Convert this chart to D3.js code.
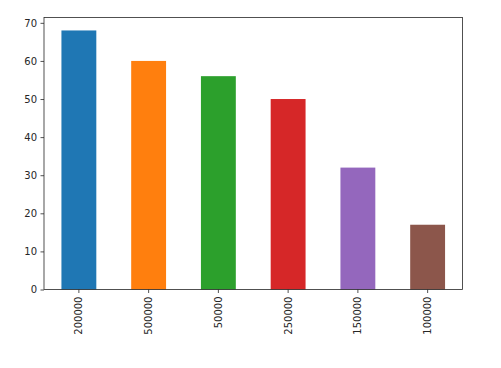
<!DOCTYPE html>
<html>
<head>
<meta charset="utf-8">
<script src="https://cdn.jsdelivr.net/npm/d3@7"></script>
<style>
  body { margin: 0; background: #fff; }
  svg text { font-family: "DejaVu Sans", sans-serif; }
</style>
</head>
<body>
<div id="chart"></div>
<script>
// categories (x tick labels) and bar heights
var categories = ["200000", "500000", "50000", "250000", "150000", "100000"];
var counts = [68, 60, 56, 50, 32, 17];
var yTicks = [0, 10, 20, 30, 40, 50, 60, 70];
var barColors = ["#1f77b4", "#ff7f0e", "#2ca02c", "#d62728", "#9467bd", "#8c564b"];

var width = 501, height = 368;
// plot area edges (avoid "top", it is window.top)
var plotLeft = 44, plotRight = 462.5, plotTop = 17.5, plotBottom = 289.5;

var svg = d3.select("#chart")
    .append("svg")
    .attr("width", width)
    .attr("height", height);

// x: band with half-width bars, like pandas bar plot
var x = d3.scaleBand()
    .domain(categories)
    .range([plotLeft, plotRight])
    .paddingInner(0.5)
    .paddingOuter(0.25);

var y = d3.scaleLinear()
    .domain([0, d3.max(counts) * 1.05])
    .range([plotBottom, plotTop]);

svg.selectAll("rect.bar")
    .data(counts)
    .enter()
    .append("rect")
    .attr("class", "bar")
    .attr("x", function (d, i) { return x(categories[i]); })
    .attr("y", function (d) { return y(d); })
    .attr("width", x.bandwidth())
    .attr("height", function (d) { return y(0) - y(d); })
    .attr("fill", function (d, i) { return barColors[i]; });

// y axis
var yAxis = svg.append("g")
    .attr("transform", "translate(" + plotLeft + ",0)")
    .call(d3.axisLeft(y).tickValues(yTicks).tickSize(3.5).tickPadding(3.5));

// x axis
var xAxis = svg.append("g")
    .attr("transform", "translate(0," + plotBottom + ")")
    .call(d3.axisBottom(x).tickSize(3.5).tickPadding(3.5));

xAxis.selectAll("text")
    .attr("transform", "rotate(-90)")
    .attr("text-anchor", "end")
    .attr("dy", "0.35em")
    .attr("x", -7)
    .attr("y", 0);

[xAxis, yAxis].forEach(function (g) {
    g.select(".domain").remove();
    g.selectAll("line").attr("stroke", "#262626").attr("stroke-width", 0.8);
    g.selectAll("text").attr("fill", "#262626").attr("font-size", "10px");
});

// frame
svg.append("rect")
    .attr("x", plotLeft)
    .attr("y", plotTop)
    .attr("width", plotRight - plotLeft)
    .attr("height", plotBottom - plotTop)
    .attr("fill", "none")
    .attr("stroke", "#262626")
    .attr("stroke-width", 0.8);
</script>
</body>
</html>
